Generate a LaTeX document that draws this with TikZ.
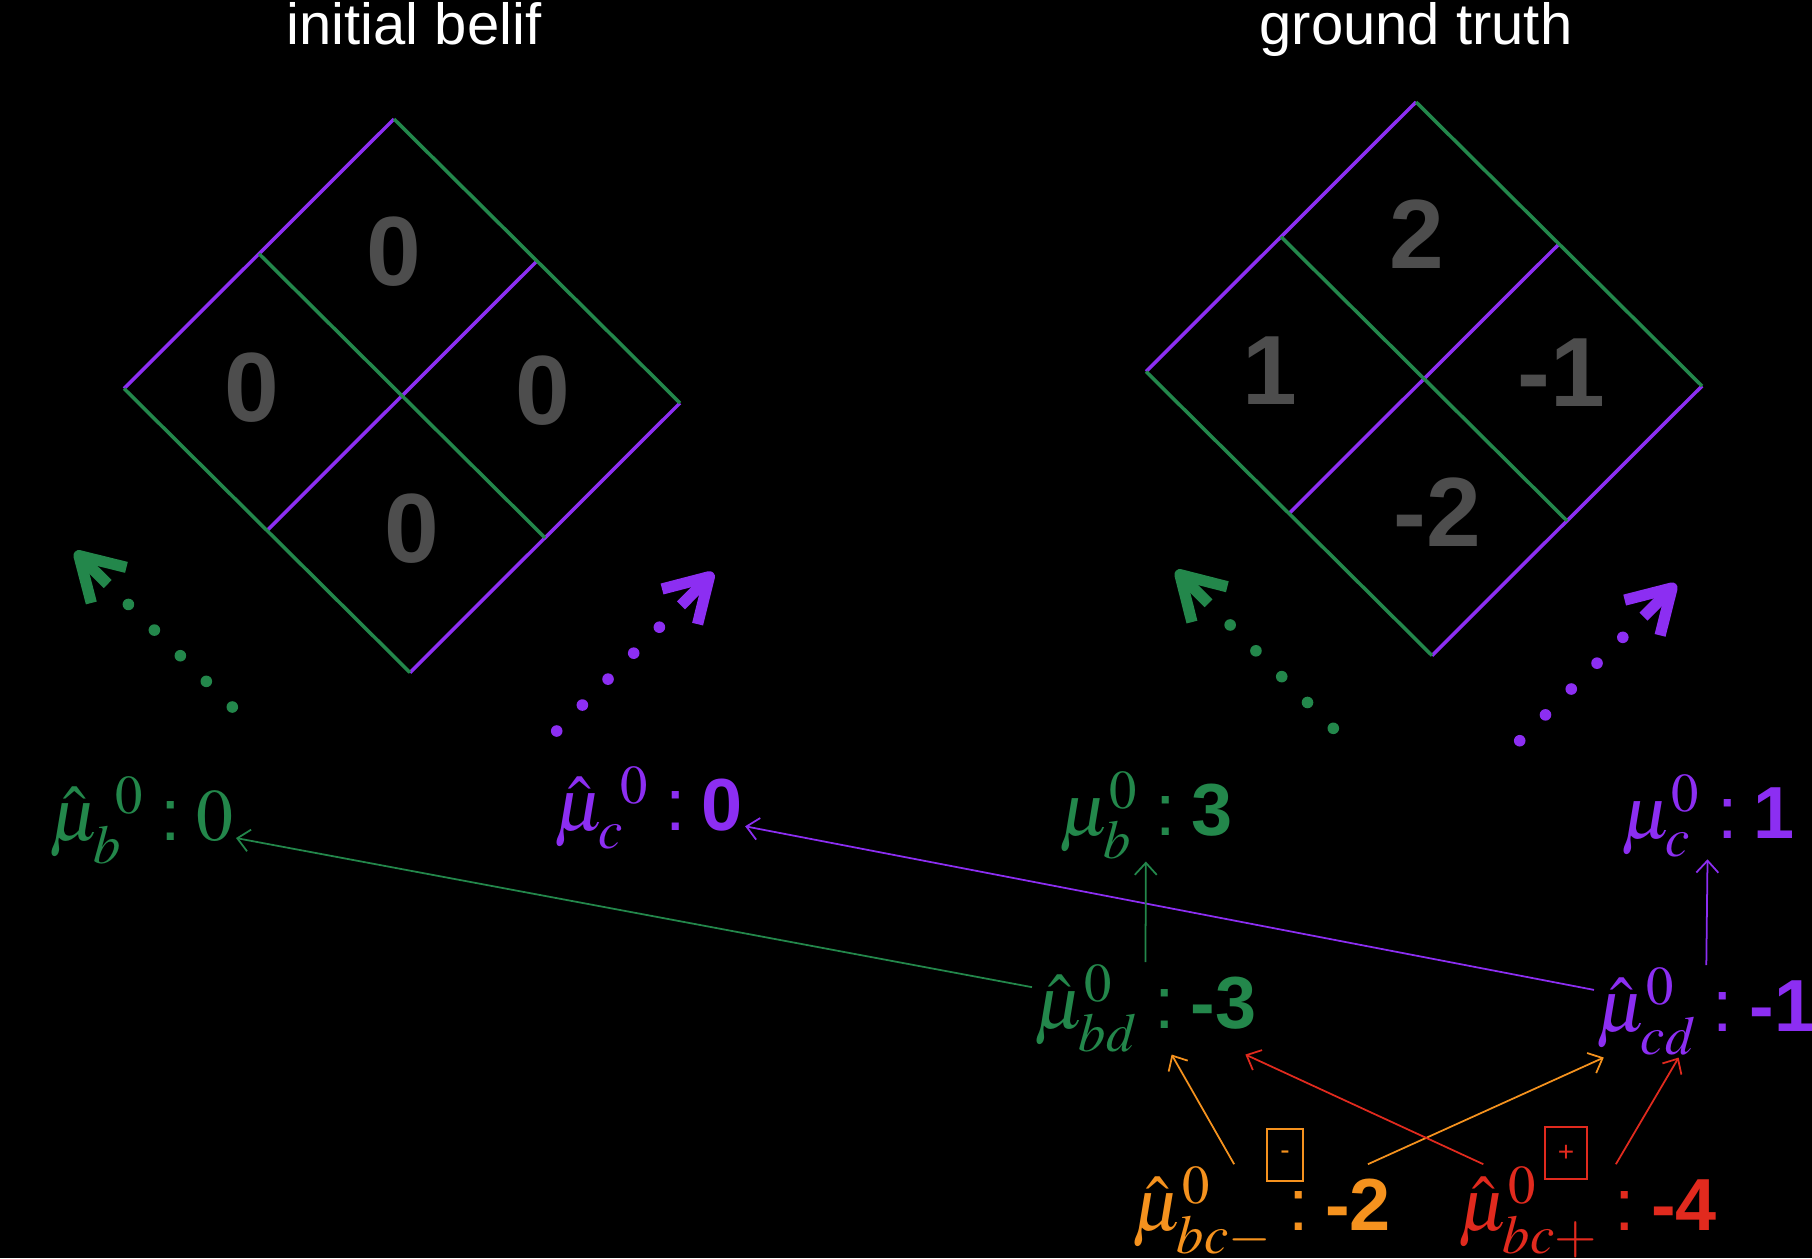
\documentclass[tikz,border=0pt]{standalone}
\usepackage{mathptmx}
\usepackage[no-math]{fontspec}
\setmainfont{Liberation Sans}
\usetikzlibrary{arrows.meta,calc}
\definecolor{kgreen}{HTML}{23874B}
\definecolor{kpurple}{HTML}{8C2EF2}
\definecolor{korange}{HTML}{F5921E}
\definecolor{kred}{HTML}{E12A1E}
\definecolor{kgray}{HTML}{4D4D4D}
\newcommand{\kc}{\hspace{0.16cm}:\hspace{0.16cm}}

\begin{document}
\begin{tikzpicture}[
  side/.style={draw=#1,line width=1pt},
  cell/.style={text=kgray,font=\fontsize{28}{30}\selectfont\bfseries,inner sep=0pt},
  ttl/.style={text=white,font=\fontsize{16.5}{19}\selectfont,anchor=base},
  lbl/.style={text=#1,font=\fontsize{21}{24}\selectfont,inner sep=0.5pt,anchor=base west},
  sgn/.style={draw=#1,text=#1,line width=0.5pt,font=\fontsize{8}{9}\selectfont,inner xsep=3.7pt,inner ysep=0pt,minimum height=0.52cm},
  link/.style={draw=#1,line width=0.5pt,-{Straight Barb[length=1.2mm,width=2.2mm]}},
  dotline/.style={draw=#1,line width=3.3pt,line cap=round,dash pattern=on 0pt off 0.365cm},
  bigtip/.style={draw=#1,line width=3.2pt,-{Straight Barb[length=4.2mm,width=5mm,line join=round,line cap=butt]}}]
  \path[use as bounding box,fill=black] (0,0) rectangle (18.12,-12.58);
  % the two grids
  \foreach \d/\x/\y in {ib/3.94/-1.19,gt/14.16/-1.02} {
    \coordinate (\d t) at (\x,\y);
    \coordinate (\d l) at ($(\d t)+(-2.70,-2.695)$);
    \coordinate (\d r) at ($(\d t)+(2.86,-2.84)$);
    \coordinate (\d b) at ($(\d l)+(2.86,-2.84)$);
    \draw[side=kpurple] (\d l) -- (\d t) (\d b) -- (\d r);
    \draw[side=kpurple] ($(\d t)!.5!(\d r)$) -- ($(\d l)!.5!(\d b)$);
    \draw[side=kgreen] (\d t) -- (\d r) (\d l) -- (\d b);
    \draw[side=kgreen] ($(\d l)!.5!(\d t)$) -- ($(\d r)!.5!(\d b)$);
  }
  \node[ttl] (ibtitle) at (4.14,-0.446) {initial belif};
  \node[ttl] (gttitle) at (14.16,-0.446) {ground truth};
  \node[cell] (ib-n) at (3.94,-2.52) {0};
  \node[cell] (ib-w) at (2.52,-3.88) {0};
  \node[cell] (ib-e) at (5.43,-3.91) {0};
  \node[cell] (ib-s) at (4.12,-5.29) {0};
  \node[cell] (gt-n) at (14.17,-2.34) {2};
  \node[cell] (gt-w) at (12.70,-3.71) {1};
  \node[cell] (gt-e) at (15.61,-3.73) {-1};
  \node[cell] (gt-s) at (14.37,-5.12) {-2};
  % dotted arrows up to the grids
  \foreach \a/\c/\sx/\sy/\tx/\ty in {ga/kgreen/2.323/-7.07/0.75/-5.517,pa/kpurple/5.567/-7.31/7.133/-5.727,gb/kgreen/13.333/-7.283/11.76/-5.707,pb/kpurple/15.197/-7.407/16.76/-5.84} {
    \coordinate (\a s) at (\sx,\sy);
    \coordinate (\a t) at (\tx,\ty);
    \draw[dotline=\c] (\a s) -- ($(\a s)!1.5cm!(\a t)$);
    \draw[bigtip=\c] ($(\a t)!0.46cm!(\a s)$) -- (\a t);
  }
  % estimates and truths
  \node[lbl=kgreen] (mub) at (0.47,-8.40) {${\hat{\mu}_b}^{\kern4.3pt 0}$\kc$0$};
  \node[lbl=kpurple] (muc) at (5.52,-8.30) {${\hat{\mu}_c}^{\kern4.3pt 0}$\kc\textbf{0}};
  \node[lbl=kgreen] (mubt) at (10.57,-8.35) {$\mu_b^0$\kc\textbf{3}};
  \node[lbl=kpurple] (muct) at (16.19,-8.38) {$\mu_c^0$\kc\textbf{1}};
  \node[lbl=kgreen] (mubd) at (10.32,-10.28) {$\hat{\mu}_{bd}^0$\kc\textbf{-3}};
  \node[lbl=kpurple] (mucd) at (15.94,-10.31) {$\hat{\mu}_{cd}^0$\kc\textbf{-1}};
  \node[lbl=korange] (mubcm) at (11.30,-12.30) {$\hat{\mu}_{bc-}^0$\kc\textbf{-2}};
  \node[lbl=kred] (mubcp) at (14.56,-12.30) {$\hat{\mu}_{bc+}^0$\kc\textbf{-4}};
  \node[sgn=korange] (minus) at (12.85,-11.55) {-};
  \node[sgn=kred] (plus) at (15.66,-11.53) {+};
  \draw[link=kgreen] (mubd) -- (mub);
  \draw[link=kpurple] (mucd) -- (muc);
  \draw[link=kgreen] (mubd) -- (mubt);
  \draw[link=kpurple] (mucd) -- (muct);
  \draw[link=korange] (mubcm) -- (mubd);
  \draw[link=korange] (mubcm) -- (mucd);
  \draw[link=kred] (mubcp) -- (mubd);
  \draw[link=kred] (mubcp) -- (mucd);
\end{tikzpicture}
\end{document}
